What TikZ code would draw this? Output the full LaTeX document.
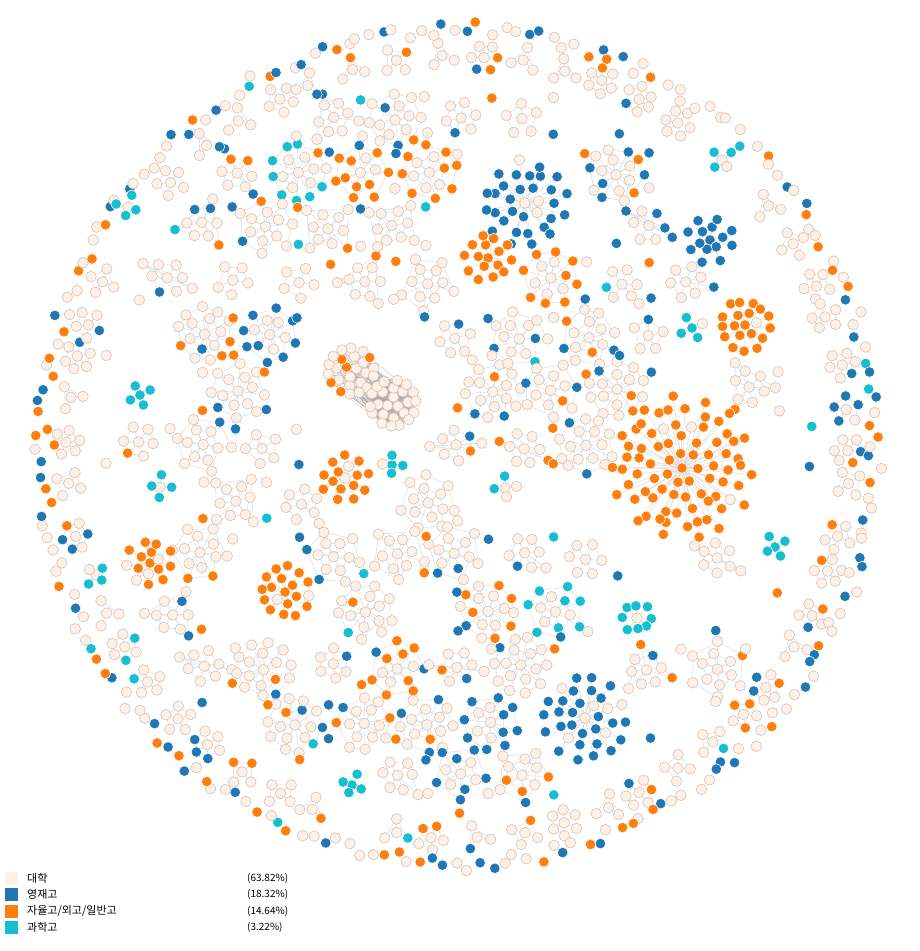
\documentclass[tikz,border=0pt]{standalone}
\usepackage{fontspec}
\newfontfamily\krfont{Noto Sans CJK KR}
\definecolor{cbeige}{HTML}{FDF0E6}
\definecolor{cbeigeline}{HTML}{D5C3B6}
\definecolor{cblue}{HTML}{1F77B4}
\definecolor{corange}{HTML}{FF7F0E}
\definecolor{ccyan}{HTML}{17BECF}
\definecolor{cedge}{HTML}{D6D6D6}
\definecolor{cdense}{HTML}{A9A9A9}
\definecolor{clegbeige}{HTML}{FEF1E8}
\tikzset{
  gn/.style={circle,inner sep=0pt,minimum size=10.6pt,line width=0.6pt},
  c0/.style={gn,fill=cbeige,draw=cbeigeline},
  c1/.style={gn,fill=cblue,draw=white},
  c2/.style={gn,fill=corange,draw=white},
  c3/.style={gn,fill=ccyan,draw=white},
  lnk/.style={draw=cedge,line width=0.4pt},
  dense/.style={draw=cdense,line width=0.2pt},
  legsq/.style={rectangle,inner sep=0pt,minimum size=13pt,draw=none},
  legtxt/.style={anchor=west,inner sep=0pt,font=\krfont\fontsize{11}{13}\selectfont},
  legpct/.style={anchor=west,inner sep=0pt,font=\krfont\fontsize{10}{12}\selectfont},
}
\newcommand\pickc[3]{%
  \pgfmathsetmacro\rr{rnd}%
  \pgfmathtruncatemacro\ci{\rr<#1 ? 1 : (\rr<#1+#2 ? 2 : (\rr<#1+#2+#3 ? 3 : 0))}%
}
\newcommand\exq[3]{((\cx-#1)/100*(\cx-#1)/100+(\cy-#2)/100*(\cy-#2)/100<#3/100*#3/100)}
\newcommand\excheck{%
  \pgfmathtruncatemacro\excl{\exq{371}{387}{80} || \exq{682}{468}{96} || \exq{745}{325}{52} || \exq{525}{203}{70} || \exq{488}{258}{50} || \exq{710}{240}{48} || \exq{285}{592}{52} || \exq{585}{718}{68} || \exq{637}{618}{46} || \exq{150}{563}{48} || \exq{345}{478}{48} || \exq{392}{465}{38} || \exq{505}{488}{38} || \exq{140}{395}{38} || \exq{160}{487}{38} || \exq{352}{785}{38} || \exq{96}{575}{38} || \exq{692}{328}{38} || \exq{722}{160}{38} || \exq{775}{547}{38} || \exq{128}{207}{38}}%
}
% generic cluster: #1 name, #2 min nodes, #3 random extra nodes, #4 radius ring 1, #5 radius ring 2
\newcommand\gcluster[5]{%
  \pgfmathsetmacro\ct{rnd}%
  \pgfmathsetmacro\pb{\ct<0.86 ? 0.10 : (\ct<0.92 ? 0.62 : (\ct<0.97 ? 0.06 : 0.05))}%
  \pgfmathsetmacro\po{\ct<0.86 ? 0.085 : (\ct<0.92 ? 0.05 : (\ct<0.97 ? 0.62 : 0.04))}%
  \pgfmathsetmacro\pc{\ct<0.86 ? 0.012 : (\ct<0.92 ? 0.0 : (\ct<0.97 ? 0.0 : 0.5))}%
  \pgfmathtruncatemacro\nn{#2+int(rnd*#3)}%
  \pgfmathtruncatemacro\nA{min(\nn,6)}%
  \pgfmathtruncatemacro\nB{max(\nn-6,1)}%
  \pgfmathsetmacro\aA{rnd*60}%
  \pgfmathsetmacro\aB{rnd*60}%
  \coordinate (#1h) at (\cx,\cy);
  \foreach \k in {1,...,\nn}{%
    \ifnum\k>6
      \pickc{\pb*1.5}{\po*1.5}{\pc*1.5}%
      \pgfmathsetmacro\ang{\aB+(\k-6)/\nB*360+(rnd-0.5)*16}%
      \pgfmathsetmacro\crad{#5+(rnd-0.5)*3}%
    \else
      \pickc{\pb*0.6}{\po*0.6}{\pc*0.6}%
      \pgfmathsetmacro\ang{\aA+\k/\nA*360+(rnd-0.5)*16}%
      \pgfmathsetmacro\crad{#4+(rnd-0.5)*2}%
    \fi
    \pgfmathsetmacro\px{\cx+\crad*cos(\ang)}%
    \pgfmathsetmacro\py{\cy+\crad*sin(\ang)}%
    \coordinate (#1p\k) at (\px,\py);
    \expandafter\xdef\csname cc#1p\k\endcsname{\ci}%
    \pgfmathtruncatemacro\kp{\k-1}%
    \draw[lnk] (#1h) -- (#1p\k);
    \ifnum\k>1 \draw[lnk] (#1p\k) -- (#1p\kp);\fi
  }%
  \node[c0] (#1) at (#1h) {};
  \foreach \k in {1,...,\nn}{\node[c\csname cc#1p\k\endcsname] (#1n\k) at (#1p\k) {};}%
}
\newcommand\starcl[7]{%
  \coordinate (#1h) at (#2,#3);
  \foreach \rrad/\cnt [count=\q] in {#4}{%
    \pgfmathsetmacro\aoff{rnd*360}%
    \foreach \k in {1,...,\cnt}{%
      \pgfmathsetmacro\ang{\aoff+\k/\cnt*360+(rnd-0.5)*10}%
      \pgfmathsetmacro\rj{\rrad+(rnd-0.5)*5}%
      \pgfmathtruncatemacro\ci{rnd<#6 ? #5 : 0}%
      \pgfmathsetmacro\px{#2+\rj*cos(\ang)}%
      \pgfmathsetmacro\py{#3+\rj*sin(\ang)}%
      \coordinate (#1q\q k\k) at (\px,\py);
      \expandafter\xdef\csname cc#1q\q k\k\endcsname{\ci}%
      \draw[lnk] (#1h) -- (#1q\q k\k);
    }%
  }%
  \node[c#7] (#1) at (#1h) {};
  \foreach \rrad/\cnt [count=\q] in {#4}{%
    \foreach \k in {1,...,\cnt}{%
      \node[c\csname cc#1q\q k\k\endcsname] (#1n\q k\k) at (#1q\q k\k) {};
    }%
  }%
}
\begin{document}
\begin{tikzpicture}[x=1pt,y=-1pt]
\useasboundingbox (0,0) rectangle (920,951);
\fill[white] (0,0) rectangle (920,951);
\pgfmathsetseed{731}
% background clusters on a jittered hex grid
\foreach \gi in {0,...,14}{%
  \foreach \gj in {0,...,16}{%
    \pgfmathsetmacro\cx{458+(\gi-7)*64+mod(\gj,2)*32+(rnd-0.5)*8}%
    \pgfmathsetmacro\cy{446+(\gj-8)*55+(rnd-0.5)*8}%
    \pgfmathtruncatemacro\inside{\exq{458}{446}{352} ? 1 : 0}%
    \excheck
    \pgfmathtruncatemacro\keep{(\inside==1) && (\excl==0) && (rnd>0.04) ? 1 : 0}%
    \ifnum\keep=1 \gcluster{g\gi x\gj}{5}{12}{15.5}{27}\fi
  }%
}
% loose nodes between clusters
\foreach \gi in {0,...,14}{%
  \foreach \gj in {0,...,16}{%
    \foreach \fx/\fy/\fn in {32/18.5/a,0/37/b}{%
      \pgfmathsetmacro\cx{458+(\gi-7)*64+mod(\gj,2)*32+\fx+(rnd-0.5)*4}%
      \pgfmathsetmacro\cy{446+(\gj-8)*55+\fy+(rnd-0.5)*4}%
      \pgfmathtruncatemacro\inside{\exq{458}{446}{368} ? 1 : 0}%
      \excheck
      \pgfmathtruncatemacro\keep{(\inside==1) && (\excl==0) && (rnd<0.7) ? 1 : 0}%
      \ifnum\keep=1
        \pickc{0.33}{0.3}{0.04}%
        \node[c\ci] (f\gi x\gj\fn) at (\cx,\cy) {};
      \fi
    }%
  }%
}
% small groups along the rim
\foreach \m in {1,...,58}{%
  \pgfmathsetmacro\ang{\m/58*360+(rnd-0.5)*2}%
  \pgfmathsetmacro\crad{391+(rnd-0.5)*4}%
  \pgfmathsetmacro\cx{458+\crad*cos(\ang)}%
  \pgfmathsetmacro\cy{446+\crad*sin(\ang)}%
  \excheck
  \ifnum\excl=0 \gcluster{m\m}{3}{4}{13}{24}\fi
}
% outer ring of loose nodes
\foreach \k in {1,...,215}{%
  \pgfmathsetmacro\ang{\k/215*360+(rnd-0.5)*1.2}%
  \pgfmathsetmacro\crad{410+rnd*15}%
  \pickc{0.24}{0.22}{0.02}%
  \pgfmathsetmacro\px{458+\crad*cos(\ang)}%
  \pgfmathsetmacro\py{446+\crad*sin(\ang)}%
  \node[c\ci] (p\k) at (\px,\py) {};
}
% central dense pair
\foreach \rrad/\cnt/\st in {6/3/0,15/8/3,23/14/11}{%
  \pgfmathsetmacro\aoff{rnd*360}%
  \foreach \k in {1,...,\cnt}{%
    \pgfmathtruncatemacro\idx{\st+\k}%
    \pgfmathsetmacro\ang{\aoff+\k/\cnt*360+(rnd-0.5)*10}%
    \pgfmathsetmacro\px{351+\rrad*cos(\ang)}%
    \pgfmathsetmacro\py{371+\rrad*sin(\ang)}%
    \pgfmathtruncatemacro\ci{rnd<0.4 ? 2 : 0}%
    \coordinate (LP\idx) at (\px,\py);
    \expandafter\xdef\csname ccL\idx\endcsname{\ci}%
  }%
}
\foreach \rrad/\cnt/\st in {6/3/0,15/8/3,23/14/11}{%
  \pgfmathsetmacro\aoff{rnd*360}%
  \foreach \k in {1,...,\cnt}{%
    \pgfmathtruncatemacro\idx{\st+\k}%
    \pgfmathsetmacro\ang{\aoff+\k/\cnt*360+(rnd-0.5)*10}%
    \pgfmathsetmacro\px{393+\rrad*cos(\ang)}%
    \pgfmathsetmacro\py{403+\rrad*sin(\ang)}%
    \pgfmathtruncatemacro\ci{rnd<0.04 ? 1 : 0}%
    \coordinate (RP\idx) at (\px,\py);
    \expandafter\xdef\csname ccR\idx\endcsname{\ci}%
  }%
}
\foreach \a in {1,...,25}{\foreach \b in {1,...,25}{\ifnum\a<\b \draw[dense] (RP\a) -- (RP\b);\fi}}
\foreach \a in {1,...,25}{\foreach \t in {1,...,5}{\pgfmathtruncatemacro\bb{1+int(rnd*25)}\draw[dense] (LP\a) -- (RP\bb);}}
\foreach \a in {1,...,25}{\node[c\csname ccL\a\endcsname] (L\a) at (LP\a) {};}
\foreach \a in {1,...,25}{\node[c\csname ccR\a\endcsname] (R\a) at (RP\a) {};}
% distinctive groups
\starcl{os}{682}{468}{16/7,30/13,44/19,58/25,70/14}{2}{0.96}{2}
\starcl{oa}{745}{325}{12/6,24/13}{2}{0.95}{2}
\starcl{bs}{525}{203}{15/7,29/13,41/12}{1}{0.95}{0}
\starcl{ob}{488}{258}{11/5,22/10}{2}{0.92}{2}
\starcl{ba}{710}{240}{11/6,22/8}{1}{0.95}{1}
\starcl{oc}{285}{592}{12/6,24/12}{2}{0.9}{2}
\starcl{bt}{585}{718}{14/7,27/12,40/14}{1}{0.85}{0}
\starcl{cr}{637}{618}{13/8}{3}{1}{0}
\starcl{od}{150}{563}{11/6,22/9}{2}{0.85}{2}
\starcl{oe}{345}{478}{11/6,22/9}{2}{0.8}{0}
\starcl{cya}{392}{465}{10/4}{3}{0.9}{3}
\starcl{cyb}{505}{488}{10/4}{3}{0.9}{0}
\starcl{cyc}{140}{395}{10/4}{3}{0.9}{3}
\starcl{cyd}{160}{487}{10/4}{3}{0.9}{0}
\starcl{cye}{352}{785}{10/4}{3}{0.9}{3}
\starcl{cyf}{96}{575}{10/4}{3}{0.9}{0}
\starcl{cyg}{692}{328}{10/4}{3}{0.9}{3}
\starcl{cyh}{722}{160}{10/4}{3}{0.9}{0}
\starcl{cyi}{775}{547}{10/4}{3}{0.9}{3}
\starcl{cyj}{128}{207}{10/4}{3}{0.9}{0}
% legend
\node[legsq,fill=clegbeige] (s1) at (11.5,878) {};
\node[legtxt] (t1) at (27,878) {대학};
\node[legpct] (q1) at (247,878) {(63.82\%)};
\node[legsq,fill=cblue] (s2) at (11.5,894) {};
\node[legtxt] (t2) at (27,894) {영재고};
\node[legpct] (q2) at (247,894) {(18.32\%)};
\node[legsq,fill=corange] (s3) at (11.5,911) {};
\node[legtxt] (t3) at (27,911) {자율고/외고/일반고};
\node[legpct] (q3) at (247,911) {(14.64\%)};
\node[legsq,fill=ccyan] (s4) at (11.5,927) {};
\node[legtxt] (t4) at (27,927) {과학고};
\node[legpct] (q4) at (247,927) {(3.22\%)};
\end{tikzpicture}
\end{document}
